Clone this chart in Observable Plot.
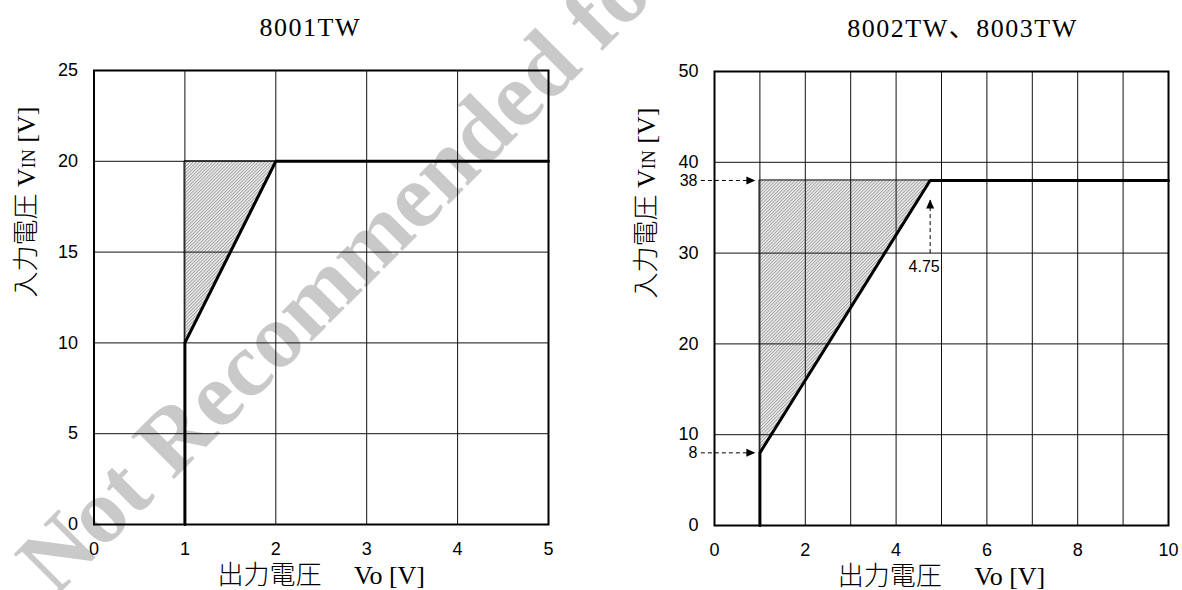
<!DOCTYPE html>
<html>
<head>
<meta charset="utf-8">
<script src="https://cdn.jsdelivr.net/npm/d3@7"></script>
<script src="https://cdn.jsdelivr.net/npm/@observablehq/plot@0.6"></script>
<style>
  html, body { margin: 0; padding: 0; background: #fff; }
  #wrap { position: relative; width: 1182px; height: 590px; overflow: hidden; background: #fff; }
  #wrap > svg { position: absolute; top: 0; }
  #wm { left: 0; pointer-events: none; }
</style>
</head>
<body>
<div id="wrap"></div>
<script>
// ---------- data ----------
const leftTitle = "8001TW";
const rightTitle = "8002TW、8003TW";
const xTitle = "出力電圧　 Vo [V]";
const yTitle = "入力電圧 VIN [V]";

// left panel (8001TW)
const leftLineX = [1, 1, 2, 5];
const leftLineY = [0, 10, 20, 20];
const leftShadeX = [1, 2];
const leftShadeLow = [10, 20];
const leftShadeHigh = [20, 20];
const leftXTicks = [0, 1, 2, 3, 4, 5];
const leftYTicks = [0, 5, 10, 15, 20, 25];

// right panel (8002TW, 8003TW)
const rightLineX = [1, 1, 4.75, 10];
const rightLineY = [0, 8, 38, 38];
const rightShadeX = [1, 4.75];
const rightShadeLow = [8, 38];
const rightShadeHigh = [38, 38];
const rightXGrid = [0, 1, 2, 3, 4, 5, 6, 7, 8, 9, 10];
const rightXTicks = [0, 2, 4, 6, 8, 10];
const rightYTicks = [0, 10, 20, 30, 40, 50];
const rightExtraYTicks = [8, 38];
// dashed annotation arrows
const hArrowY = [38, 8];
const hArrowFromX = [-0.3, -0.3];
const hArrowToX = [0.9, 0.9];
const vArrowX = [4.75];
const vArrowFromY = [30];
const vArrowToY = [35.9];
const vArrowLabel = ["4.75"];

const watermark = "Not Recommended for New Design";

// ---------- helpers ----------
const sansFont = "'Liberation Sans', Arial, sans-serif";
const serifFont = "'Liberation Serif', 'Noto Sans CJK JP', serif";
const cjkFont = "'Liberation Serif', 'Noto Sans CJK JP', serif";

const triRight = { draw(ctx) { ctx.moveTo(0, 0); ctx.lineTo(-9, -4); ctx.lineTo(-9, 4); ctx.closePath(); } };
const triUp = { draw(ctx) { ctx.moveTo(0, 0); ctx.lineTo(-4, 9); ctx.lineTo(4, 9); ctx.closePath(); } };

function addHatch(svg, id) {
  const defs = d3.select(svg).insert("defs", ":first-child");
  const s = 2.3;
  const p = defs.append("pattern").attr("id", id).attr("patternUnits", "userSpaceOnUse")
    .attr("width", s).attr("height", s).attr("patternTransform", "rotate(45)");
  p.append("rect").attr("width", s).attr("height", s).attr("fill", "#f0f0f0");
  p.append("line").attr("x1", 0.5).attr("y1", 0).attr("x2", 0.5).attr("y2", s)
    .attr("stroke", "#9a9a9a").attr("stroke-width", 0.9);
}

function fixTexts(svg) {
  d3.select(svg).selectAll("text").each(function () {
    const t = this.textContent;
    if (t === yTitle) {
      const el = d3.select(this);
      el.text(null);
      el.append("tspan").text("入力電圧 V");
      el.append("tspan").attr("font-size", "18px").text("IN");
      el.append("tspan").text(" [V]");
    } else if (t === leftTitle || t === rightTitle) {
      d3.select(this).attr("letter-spacing", "1.5px");
    }
  });
}

function panel(cfg) {
  const shade = cfg.shadeX.map((x, i) => ({ x, lo: cfg.shadeLow[i], hi: cfg.shadeHigh[i] }));
  const line = cfg.lineX.map((x, i) => ({ x, y: cfg.lineY[i] }));
  const marks = [
    Plot.areaY(shade, { x: "x", y1: "lo", y2: "hi", fill: `url(#${cfg.hatch})`, stroke: "black", strokeWidth: 1 }),
    Plot.gridX({ ticks: cfg.xGrid, stroke: "#111", strokeOpacity: 1, strokeWidth: 1 }),
    Plot.gridY({ ticks: cfg.yGrid, stroke: "#111", strokeOpacity: 1, strokeWidth: 1 }),
    Plot.frame({ stroke: "black", strokeWidth: 2 }),
    Plot.line(line, { x: "x", y: "y", stroke: "black", strokeWidth: 3, strokeLinejoin: "miter" }),
    Plot.axisX({ ticks: cfg.xTicks, tickFormat: (d) => String(d), tickSize: 0, tickPadding: 18, fontSize: 18, label: null }),
    Plot.axisY({ ticks: cfg.yTicks, tickFormat: (d) => String(d), tickSize: 0, tickPadding: 16, fontSize: 18, label: null }),
    Plot.text([cfg.title], { frameAnchor: "top", dx: cfg.titleDx, dy: -43, fontSize: 26, fontFamily: serifFont, lineAnchor: "middle" }),
    Plot.text([xTitle], { frameAnchor: "bottom", dy: 51, fontSize: 26, fontFamily: cjkFont, fontWeight: 300, lineAnchor: "middle" }),
    Plot.text([yTitle], { frameAnchor: "left", dx: cfg.yTitleDx, rotate: -90, fontSize: 26, fontFamily: cjkFont, fontWeight: 300, lineAnchor: "middle" })
  ];
  if (cfg.extra) marks.push(...cfg.extra);
  const svg = Plot.plot({
    width: 591, height: 590,
    marginLeft: cfg.ml, marginRight: cfg.mr, marginTop: cfg.mt, marginBottom: cfg.mb,
    x: { domain: cfg.xDomain },
    y: { domain: cfg.yDomain },
    style: { fontFamily: sansFont, fontSize: "18px", color: "black", background: "transparent", overflow: "visible" },
    marks
  });
  addHatch(svg, cfg.hatch);
  fixTexts(svg);
  return svg;
}

const wrap = document.getElementById("wrap");

// watermark (drawn beneath the chart lines)
const wm = d3.select(wrap).append("svg").attr("id", "wm").attr("width", 1182).attr("height", 590);
wm.append("text")
  .attr("x", 55).attr("y", 598)
  .attr("transform", "rotate(-45 55 598)")
  .attr("font-family", "'Liberation Serif', serif")
  .attr("font-weight", "bold")
  .attr("font-size", 92)
  .attr("fill", "#c9c9c9")
  .text(watermark);

const left = panel({
  title: leftTitle, titleDx: -11, yTitleDx: -67.5, hatch: "hatchL",
  ml: 93.5, mr: 43, mt: 70, mb: 66,
  xDomain: [0, 5], yDomain: [0, 25],
  xGrid: leftXTicks, yGrid: leftYTicks, xTicks: leftXTicks, yTicks: leftYTicks,
  lineX: leftLineX, lineY: leftLineY,
  shadeX: leftShadeX, shadeLow: leftShadeLow, shadeHigh: leftShadeHigh
});
left.style.left = "0px";
wrap.appendChild(left);

const hArrows = hArrowY.map((y, i) => ({ y, x1: hArrowFromX[i], x2: hArrowToX[i] }));
const vArrows = vArrowX.map((x, i) => ({ x, y1: vArrowFromY[i], y2: vArrowToY[i], label: vArrowLabel[i] }));

const right = panel({
  title: rightTitle, titleDx: 21, yTitleDx: -68, hatch: "hatchR",
  ml: 123, mr: 14, mt: 71, mb: 65,
  xDomain: [0, 10], yDomain: [0, 50],
  xGrid: rightXGrid, yGrid: rightYTicks, xTicks: rightXTicks, yTicks: rightYTicks,
  lineX: rightLineX, lineY: rightLineY,
  shadeX: rightShadeX, shadeLow: rightShadeLow, shadeHigh: rightShadeHigh,
  extra: [
    Plot.axisY({ ticks: rightExtraYTicks, tickFormat: (d) => String(d), tickSize: 0, tickPadding: 17, fontSize: 16, label: null }),
    Plot.link(hArrows, { x1: "x1", x2: "x2", y1: "y", y2: "y", stroke: "black", strokeWidth: 1, strokeDasharray: "4,3" }),
    Plot.dot(hArrows, { x: "x2", y: "y", symbol: triRight, fill: "black", stroke: "none" }),
    Plot.link(vArrows, { x1: "x", x2: "x", y1: "y1", y2: "y2", stroke: "black", strokeWidth: 1, strokeDasharray: "4,3" }),
    Plot.dot(vArrows, { x: "x", y: "y2", symbol: triUp, fill: "black", stroke: "none" }),
    Plot.text(vArrows, { x: "x", y: "y1", text: "label", dx: -6, dy: 14, fontSize: 16, fontFamily: sansFont })
  ]
});
right.style.left = "591px";
wrap.appendChild(right);
</script>
</body>
</html>
